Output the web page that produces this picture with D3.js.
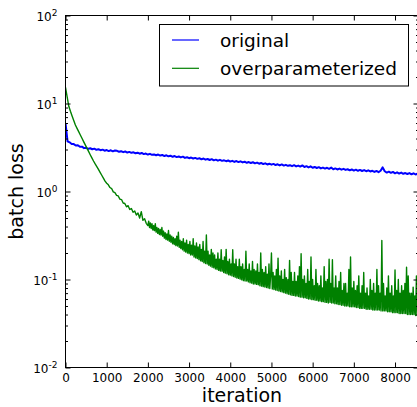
<!DOCTYPE html>
<html>
<head>
<meta charset="utf-8">
<script src="https://cdn.jsdelivr.net/npm/d3@7"></script>
<style>
  body { margin: 0; background: #fff; }
  svg { display: block; font-family: "DejaVu Sans", sans-serif; }
</style>
</head>
<body>
<div id="chart"></div>
<script>
const width = 417, height = 407;
// pixel box of the axes
const box = {left: 65.5, top: 15.5, right: 418.5, bottom: 367.5};

const xMax = 8570;
const xTicks = [0, 1000, 2000, 3000, 4000, 5000, 6000, 7000, 8000];
const yExponents = [-2, -1, 0, 1, 2];
const seriesNames = ["original", "overparameterized"];
const seriesColors = ["#0000ff", "#008000"];

// batch loss of the original net, one value every 50 iterations
const originalStep = 50;
const originalLoss = [
  6.0, 3.72, 3.62, 3.47, 3.46, 3.33, 3.35, 3.22, 3.23, 3.11,
  3.14, 3.05, 3.10, 3.02, 3.07, 2.98, 3.02, 2.95, 2.99, 2.91,
  2.96, 2.88, 2.94, 2.86, 2.92, 2.90, 2.83, 2.87, 2.80, 2.85,
  2.77, 2.82, 2.75, 2.79, 2.72, 2.76, 2.69, 2.74, 2.66, 2.70,
  2.63, 2.68, 2.61, 2.64, 2.58, 2.63, 2.56, 2.60, 2.53, 2.58,
  2.51, 2.55, 2.48, 2.53, 2.46, 2.50, 2.44, 2.49, 2.41, 2.45,
  2.39, 2.43, 2.37, 2.41, 2.35, 2.39, 2.32, 2.37, 2.30, 2.34,
  2.28, 2.33, 2.26, 2.30, 2.24, 2.29, 2.23, 2.26, 2.21, 2.25,
  2.19, 2.23, 2.17, 2.22, 2.16, 2.20, 2.14, 2.18, 2.12, 2.16,
  2.11, 2.15, 2.09, 2.13, 2.07, 2.11, 2.05, 2.09, 2.03, 2.07,
  2.02, 2.06, 2.00, 2.04, 1.98, 2.03, 1.97, 2.01, 1.96, 1.99,
  1.94, 1.99, 1.93, 1.97, 1.92, 1.98, 1.90, 1.94, 1.88, 1.93,
  1.86, 1.90, 1.85, 1.89, 1.83, 1.87, 1.82, 1.86, 1.81, 1.87,
  1.79, 1.83, 1.78, 1.82, 1.77, 1.81, 1.76, 1.79, 1.74, 1.78,
  1.73, 1.77, 1.72, 1.76, 1.71, 1.75, 1.70, 1.74, 1.69, 1.72,
  1.67, 1.71, 1.66, 1.72, 1.88, 1.70, 1.64, 1.68, 1.63, 1.67,
  1.61, 1.65, 1.60, 1.64, 1.59, 1.62, 1.58, 1.62, 1.57, 1.61,
  1.56, 1.60, 1.55
];

// overparameterized net: iterations 0..1960, one value every 40
const overEarlyStep = 40;
const overLossEarly = [
  15.3, 11.9, 9.3, 8.15, 7.22, 6.41, 5.69, 5.21, 4.79, 4.39,
  4.03, 3.69, 3.39, 3.11, 2.86, 2.62, 2.41, 2.22, 2.06, 1.92,
  1.78, 1.65, 1.53, 1.42, 1.31,
  1.24, 1.19, 1.11, 1.08, 0.99, 0.97, 0.905, 0.89, 0.82, 0.81,
  0.74, 0.73, 0.67, 0.69, 0.625, 0.64, 0.58, 0.60, 0.54, 0.57,
  0.50, 0.59, 0.47, 0.49, 0.435
];

// overparameterized net: iterations 2000..8600, one value every 20
const overLateStart = 2000;
const overLateStep = 20;
const overLossLate = [
  0.41, 0.46, 0.39, 0.44, 0.38, 0.43, 0.365, 0.41, 0.36, 0.43,
  0.345, 0.39, 0.335, 0.38, 0.325, 0.37, 0.32, 0.39, 0.31, 0.355,
  0.295, 0.34, 0.285, 0.33, 0.28, 0.36, 0.272, 0.32, 0.265, 0.31,
  0.255, 0.30, 0.25, 0.29, 0.243, 0.31, 0.24, 0.345, 0.232, 0.28,
  0.225, 0.27, 0.218, 0.29, 0.21, 0.26, 0.205, 0.28, 0.20, 0.25,
  0.197, 0.27, 0.19, 0.245, 0.19, 0.29, 0.18, 0.24, 0.176, 0.26,
  0.173, 0.235, 0.168, 0.25, 0.163, 0.22, 0.16, 0.27, 0.155, 0.21,
  0.152, 0.32, 0.15, 0.21, 0.145, 0.19, 0.142, 0.22, 0.138, 0.20,
  0.136, 0.19, 0.132, 0.17, 0.13, 0.20, 0.127, 0.17, 0.125, 0.218,
  0.124, 0.165, 0.12, 0.18, 0.118, 0.22, 0.116, 0.16, 0.113, 0.17,
  0.112, 0.15, 0.11, 0.218, 0.108, 0.15, 0.106, 0.17, 0.104, 0.14,
  0.103, 0.17, 0.101, 0.14, 0.099, 0.15, 0.097, 0.13, 0.096, 0.21,
  0.096, 0.13, 0.094, 0.15, 0.092, 0.125, 0.091, 0.16, 0.089, 0.13,
  0.089, 0.125, 0.088, 0.15, 0.087, 0.12, 0.085, 0.20, 0.084, 0.13,
  0.083, 0.12, 0.082, 0.14, 0.081, 0.115, 0.08, 0.15, 0.079, 0.11,
  0.20, 0.078, 0.12, 0.077, 0.11, 0.076, 0.13, 0.075, 0.175, 0.074,
  0.11, 0.073, 0.125, 0.072, 0.10, 0.071, 0.13, 0.07, 0.105, 0.069,
  0.10, 0.068, 0.165, 0.067, 0.12, 0.066, 0.095, 0.066, 0.12, 0.065,
  0.095, 0.065, 0.11, 0.064, 0.14, 0.063, 0.196, 0.063, 0.10, 0.062,
  0.11, 0.062, 0.09, 0.061, 0.13, 0.06, 0.095, 0.06, 0.18, 0.059,
  0.10, 0.059, 0.085, 0.058, 0.13, 0.058, 0.09, 0.057, 0.085, 0.057,
  0.11, 0.056, 0.08, 0.056, 0.14, 0.055, 0.095, 0.055, 0.10, 0.054,
  0.17, 0.055, 0.09, 0.054, 0.168, 0.054, 0.08, 0.053, 0.11, 0.053,
  0.08, 0.052, 0.095, 0.052, 0.12, 0.051, 0.075, 0.051, 0.09, 0.05,
  0.09, 0.05, 0.07, 0.05, 0.13, 0.049, 0.18, 0.049, 0.08, 0.049,
  0.095, 0.049, 0.075, 0.048, 0.085, 0.048, 0.11, 0.047, 0.07, 0.047,
  0.085, 0.047, 0.12, 0.047, 0.07, 0.046, 0.08, 0.046, 0.065, 0.046,
  0.10, 0.046, 0.075, 0.045, 0.09, 0.045, 0.07, 0.045, 0.13, 0.045,
  0.085, 0.045, 0.07, 0.044, 0.277, 0.044, 0.09, 0.044, 0.065, 0.044,
  0.08, 0.043, 0.11, 0.043, 0.07, 0.043, 0.085, 0.042, 0.065, 0.042,
  0.128, 0.042, 0.075, 0.042, 0.10, 0.041, 0.07, 0.041, 0.085, 0.041,
  0.075, 0.041, 0.09, 0.041, 0.138, 0.04, 0.11, 0.04, 0.07, 0.04,
  0.07, 0.04, 0.082, 0.04, 0.065, 0.039, 0.11, 0.039, 0.07, 0.039,
  0.06
];

const svg = d3.select("#chart")
  .append("svg")
  .attr("width", width)
  .attr("height", height);

const x = d3.scaleLinear().domain([0, xMax]).range([box.left, box.right]);
const y = d3.scaleLog().domain([1e-2, 1e2]).range([box.bottom, box.top]);

// minor ticks of the log axis: 2..9 in every decade
const yMinor = [];
yExponents.slice(0, -1).forEach(e => {
  for (let k = 2; k <= 9; k++) yMinor.push(k * Math.pow(10, e));
});

svg.append("defs").append("clipPath")
  .attr("id", "plot-clip")
  .append("rect")
  .attr("x", box.left).attr("y", box.top)
  .attr("width", box.right - box.left).attr("height", box.bottom - box.top);

// [iteration, loss] pairs
const originalPoints = originalLoss.map((v, i) => [i * originalStep, v]);
const overPoints = overLossEarly.map((v, i) => [i * overEarlyStep, v])
  .concat(overLossLate.map((v, i) => [overLateStart + i * overLateStep, v]));

const line = d3.line()
  .x(d => x(d[0]))
  .y(d => y(d[1]));

const plot = svg.append("g").attr("clip-path", "url(#plot-clip)");
plot.append("path")
  .datum(originalPoints)
  .attr("d", line)
  .attr("fill", "none")
  .attr("stroke", seriesColors[0])
  .attr("stroke-width", 2)
  .attr("stroke-linejoin", "round");
plot.append("path")
  .datum(overPoints)
  .attr("d", line)
  .attr("fill", "none")
  .attr("stroke", seriesColors[1])
  .attr("stroke-width", 1.4)
  .attr("stroke-linejoin", "round");

// axes, ticks pointing inward on all four sides
function styleAxis(g) {
  g.select(".domain").remove();
  g.selectAll(".tick line").attr("stroke", "#000");
  g.selectAll("text").attr("fill", "#000").attr("font-size", 12)
    .attr("font-family", "DejaVu Sans, sans-serif");
}

svg.append("g")
  .attr("transform", `translate(0,${box.bottom})`)
  .call(d3.axisBottom(x).tickValues(xTicks).tickSize(-5).tickPadding(6.3).tickFormat(d3.format("d")))
  .call(styleAxis);
svg.append("g")
  .attr("transform", `translate(0,${box.top})`)
  .call(d3.axisTop(x).tickValues(xTicks).tickSize(-5).tickFormat(""))
  .call(styleAxis);

const yMajor = yExponents.map(e => Math.pow(10, e));
const leftAxis = svg.append("g")
  .attr("transform", `translate(${box.left},0)`)
  .call(d3.axisLeft(y).tickValues(yMajor).tickSize(-5).tickPadding(8))
  .call(styleAxis);
leftAxis.selectAll(".tick text").each(function(d) {
  const t = d3.select(this).text(null).attr("dy", "0.39em");
  t.append("tspan").text("10");
  t.append("tspan").attr("dy", -4.7).attr("font-size", 9)
    .text(String(Math.round(Math.log10(d))));
});
svg.append("g")
  .attr("transform", `translate(${box.left},0)`)
  .call(d3.axisLeft(y).tickValues(yMinor).tickSize(-2.5).tickFormat(""))
  .call(styleAxis);
svg.append("g")
  .attr("transform", `translate(${box.right},0)`)
  .call(d3.axisRight(y).tickValues(yMajor).tickSize(-5).tickFormat(""))
  .call(styleAxis);
svg.append("g")
  .attr("transform", `translate(${box.right},0)`)
  .call(d3.axisRight(y).tickValues(yMinor).tickSize(-2.5).tickFormat(""))
  .call(styleAxis);

// frame
svg.append("rect")
  .attr("x", box.left).attr("y", box.top)
  .attr("width", box.right - box.left).attr("height", box.bottom - box.top)
  .attr("fill", "none").attr("stroke", "#000").attr("stroke-width", 1);

// axis labels
svg.append("text")
  .attr("x", (box.left + box.right) / 2)
  .attr("y", 402)
  .attr("text-anchor", "middle")
  .attr("font-size", 19)
  .text("iteration");
svg.append("text")
  .attr("transform", `translate(23,${(box.top + box.bottom) / 2}) rotate(-90)`)
  .attr("text-anchor", "middle")
  .attr("font-size", 19)
  .text("batch loss");

// legend
const legend = svg.append("g");
legend.append("rect")
  .attr("x", 159.5).attr("y", 24.5).attr("width", 249).attr("height", 61.5)
  .attr("fill", "#fff").attr("stroke", "#000").attr("stroke-width", 1);
seriesNames.forEach((name, i) => {
  const ly = 40 + i * 28.3;
  legend.append("line")
    .attr("x1", 172).attr("x2", 199).attr("y1", ly).attr("y2", ly)
    .attr("stroke", seriesColors[i]).attr("stroke-width", 1.2);
  legend.append("text")
    .attr("x", 220).attr("y", ly + 6.6)
    .attr("font-size", 18.5)
    .text(name);
});
</script>
